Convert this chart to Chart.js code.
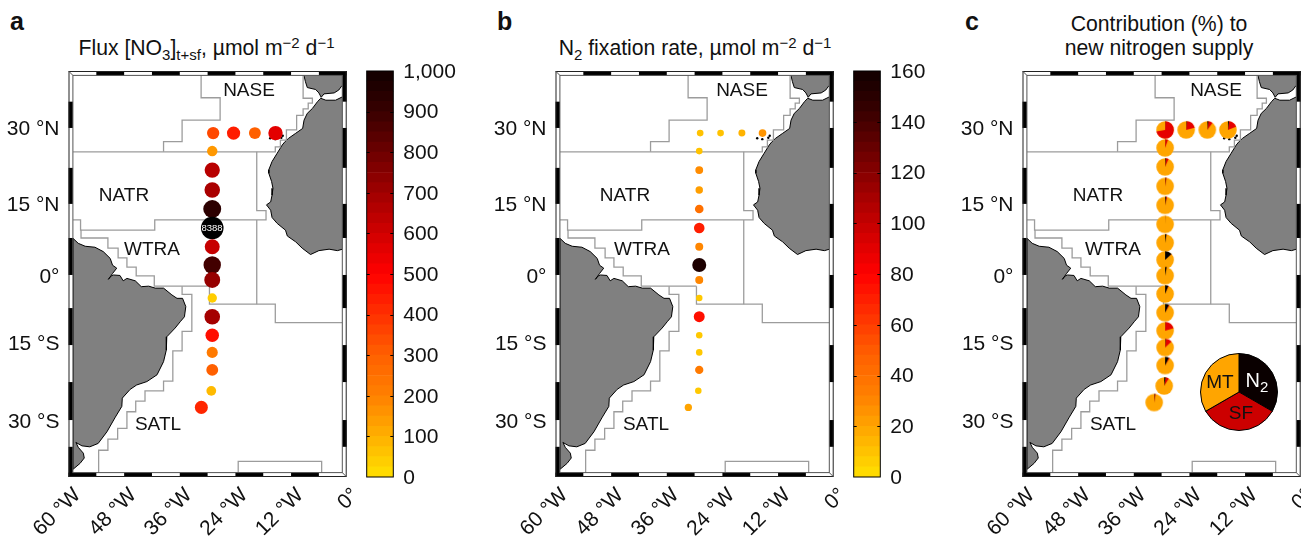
<!DOCTYPE html>
<html><head><meta charset="utf-8">
<script src="https://cdn.jsdelivr.net/npm/chart.js@4"></script>
<style>
html,body{margin:0;padding:0;background:#fff;overflow:hidden;width:1301px;height:537px}
body{position:relative;font-family:"Liberation Sans",Arial,sans-serif;color:#111}
canvas{position:absolute}
.t{position:absolute;transform:translate(-50%,-50%);white-space:nowrap;text-align:center;line-height:24px}
.title{font-size:21.2px}
.reg{font-size:19px}
.let{position:absolute;font-weight:bold;font-size:25px;line-height:25px}
sub,sup{font-size:15px;line-height:0}
sub{vertical-align:-5px}sup{vertical-align:7px}
</style></head><body>
<div class="let" style="left:10px;top:9px">a</div>
<div class="let" style="left:497px;top:9px">b</div>
<div class="let" style="left:965px;top:9px">c</div>
<div class="t title" style="left:206.5px;top:48px">Flux [NO<sub>3</sub>]<sub>t+sf</sub>, µmol m<sup>−2</sup> d<sup>−1</sup></div>
<div class="t title" style="left:695px;top:48px">N<sub>2</sub> fixation rate, µmol m<sup>−2</sup> d<sup>−1</sup></div>
<div class="t title" style="left:1159px;top:36px">Contribution (%) to<br>new nitrogen supply</div>
<canvas id="mapA" width="362" height="537" style="left:0;top:0"></canvas>
<canvas id="barA" width="110" height="537" style="left:360px;top:0"></canvas>
<canvas id="mapB" width="362" height="537" style="left:487px;top:0"></canvas>
<canvas id="barB" width="110" height="537" style="left:847px;top:0"></canvas>
<canvas id="mapC" width="362" height="537" style="left:954px;top:0"></canvas>
<canvas id="pieKey" width="80" height="80" style="left:1199px;top:352px"></canvas>
<div class="t" style="left:212px;top:228px;font-size:9.5px;color:#fff">8388</div>
<div class="t reg" style="left:249px;top:90px">NASE</div><div class="t reg" style="left:124px;top:195px">NATR</div><div class="t reg" style="left:152px;top:249px">WTRA</div><div class="t reg" style="left:158px;top:424px">SATL</div>
<div class="t reg" style="left:742px;top:90px">NASE</div><div class="t reg" style="left:625px;top:195px">NATR</div><div class="t reg" style="left:642px;top:249px">WTRA</div><div class="t reg" style="left:646px;top:424px">SATL</div>
<div class="t reg" style="left:1216px;top:90px">NASE</div><div class="t reg" style="left:1098px;top:195px">NATR</div><div class="t reg" style="left:1113px;top:249px">WTRA</div><div class="t reg" style="left:1113px;top:424px">SATL</div>
<div class="t reg" style="left:1220px;top:382px">MT</div>
<div class="t reg" style="left:1241px;top:413px">SF</div>
<div class="t reg" style="left:1257px;top:380px;color:#fff;font-size:20px">N<sub>2</sub></div>
<script>
// ---- axis tick values and labels
const lonTicks = [-60,-48,-36,-24,-12,0];
const lonLabels = ['60 °W','48 °W','36 °W','24 °W','12 °W','0°'];
const latTicks = [30,14.5,-0.3,-14.2,-30.2];
const latLabels = ['30 °N','15 °N','0°','15 °S','30 °S'];
const lonBreaks = [-60,-54,-48,-42,-36,-30,-24,-18,-12,-6,0];
const latBreaks = [41.7,35.4,30,21.8,14.4,7.4,-0.2,-7,-14.6,-22.2,-30,-35.5,-41.7];

// ---- stations (degrees)
const stationLon = [-28.8,-24.4,-19.8,-15.35,-29,-29,-29,-29,-29,-29,-29,-29,-29,-29,-29,-29,-29,-29.2,-31.35];
const stationLat = [28.95,28.95,28.95,28.95,25.25,21.35,17.25,13.35,9.45,5.6,1.85,-1.23,-4.93,-8.77,-12.6,-16.1,-19.7,-24,-27.4];
const no3Flux = [350,440,300,560,150,650,680,930,8388,620,880,720,40,690,470,220,300,80,420];
const n2Fix = [10,10,15,25,10,28,22,40,70,30,155,30,8,75,8,8,35,8,20];

// ---- pies: centres as plotted in panel c, and percent shares
const pieLon = [-29.25,-24.7,-20.15,-15.7,-29.25,-29.25,-29.25,-29.25,-29.25,-29.25,-29.25,-29.25,-29.25,-29.25,-29.25,-29.25,-29.25,-29.45,-31.6];
const pieLat = [29.6,29.6,29.6,29.6,25.9,22,18,14.1,10.2,6.4,2.9,-0.35,-4.1,-7.95,-11.65,-15.1,-18.8,-23,-26.4];
const pieN2 = [0.5,1,2,2,0.5,1.5,1,2,0.3,2.5,13,3,6,7,0.5,1,7,3,1];
const pieSF = [72,20,8,17,5,5,2,2,0.2,0.5,0.5,0.3,1,1.5,20,12,2,6,2];
const keyShares = [1,1,1];

// ---- colour bar
const fluxMax = 1000, fluxStep = 100;
const n2Max = 160, n2Step = 20;
const bandCount = 40;
const cmapPos = [0,0.1,0.2,0.3,0.4,0.5,0.6,0.7,0.8,0.9,1];
const cmapR = [255,255,255,255,255,255,208,160,108,56,16];
const cmapG = [224,176,128,96,48,0,0,0,0,0,0];

// ---- coastlines (lon,lat pairs)
const africa = [-0.9,36.4,-2.4,35.7,-4.5,35.7,-5.6,36.1,-6.3,35.4,-7.4,34,-8.5,33,-9.2,31.6,-9.5,29.9,-11,28.9,-12.5,27.9,-13.3,27.2,-13.9,26.5,-15,24.8,-16.1,23.1,-16.8,21.4,-16.8,20.7,-16.2,19,-15.9,17.6,-16.1,16.2,-16.4,14.8,-17.3,14.2,-16.4,13.1,-16.1,11.6,-15,10.4,-13.2,9,-12.8,7.8,-11,6.6,-9.6,5.3,-7.8,4,-6,4.8,-3.8,5.1,-2,4.8,-0.9,5.1,-0.9,36.4];
const iberia = [-9.2,41.7,-9.2,40.7,-8.9,39.5,-8.5,38.3,-6.7,37.9,-6,37.2,-5.5,36.3,-4.9,37,-2.7,37.2,-1.7,37.8,-1.1,38.6,-0.9,38.7,-0.9,41.7,-9.2,41.7];
const southAmerica = [-59,7.3,-57.9,6.3,-56.4,5.7,-54.3,5.5,-52.5,4.6,-51,3.2,-50.5,1.8,-49.6,1.2,-50.5,0.1,-51.4,-1.1,-50.8,-0.4,-50.3,-0.2,-48.9,-0.3,-48.2,-1.4,-47.4,-0.9,-45.6,-1.4,-44.3,-2.6,-42.7,-2.5,-41.3,-2.9,-39.5,-2.9,-37.7,-4.3,-36.6,-5,-35.4,-5,-34.7,-6.7,-35,-8.8,-35.9,-9.8,-37,-11.1,-38.8,-12.9,-38.9,-15.6,-39.5,-18,-40.9,-20.7,-43.1,-22.1,-45.3,-22.8,-46.7,-23.7,-48.4,-25.5,-48.5,-27.2,-49.9,-29.4,-51.7,-32.4,-53.6,-34.8,-55.4,-35.5,-57.1,-35.3,-58.4,-34.6,-57.9,-35.6,-56.8,-36.8,-56.6,-37.8,-57.5,-38.9,-59,-40.1,-59,7.3];
const canaryLon = [-16.5,-15.4,-13.8,-14.1];
const canaryLat = [27.9,27.7,28.4,28];

// ---- province boundaries (lon,lat pairs)
const naseWest = [-31.4,41.7,-31.4,36.2,-27.3,36.2,-27.3,31.6,-35.5,31.6,-35.5,27.2,-39.5,27.2,-39.5,25.1];
const naseEast = [-59,25.1,-15.4,25.1,-15.4,26.1,-14.3,26.1,-14.3,27.5,-13,27.5,-13,29.6,-10.8,29.6,-10.8,32.6,-9.4,32.6,-9.4,33.9,-8.3,33.9,-8.3,35.1,-7.4,35.1,-7.4,36.1,-9.4,36.1,-9.4,41.7];
const natrSouth = [-19.4,25.1,-19.4,13,-17.4,13,-17.4,11.1,-41.4,11.1,-41.4,9,-57.4,9,-57.4,11.1,-59,11.1];
const wtraEast = [-19.4,11.1,-19.4,-6.2];
const wtraSouth = [-29.6,-2.5,-29.6,-6.2,-15.4,-6.2,-15.4,-10,-0.9,-10];
const wtraWest = [-57.3,9.1,-57.3,7.4,-51.5,7.4,-51.5,5.3,-49.3,5.3,-49.3,3.3,-47.4,3.3,-47.4,1.4,-45.4,1.4,-45.4,-0.4,-41.5,-0.4,-41.5,-2.5,-29.6,-2.5];
const satlCoast = [-35.5,-2.5,-35.5,-4.2,-33.4,-4.2,-33.4,-11.8,-35.5,-11.8,-35.5,-15.8,-37.5,-15.8,-37.5,-22,-39.5,-22,-39.5,-24,-43.5,-24,-43.5,-26.1,-45.5,-26.1,-45.5,-28.3,-47.4,-28.3,-47.4,-31.7,-49.4,-31.7,-49.4,-33.9,-51.5,-33.9,-51.5,-36.2,-53.5,-36.2,-53.5,-41.7];
const southBox = [-23.4,-41.7,-23.4,-38.5,-5.4,-38.5,-5.4,-41.7];

// ---- helpers
const FONT = '"Liberation Sans", Arial, sans-serif';
const INK = '#111';
function pairs(a){const o=[];for(let i=0;i<a.length;i+=2)o.push({x:a[i],y:a[i+1]});return o;}
function zip(xs,ys){return xs.map((x,i)=>({x,y:ys[i]}));}
function cmap(f){
  f=Math.max(0,Math.min(1,f));
  let i=0;while(i<cmapPos.length-2&&f>cmapPos[i+1])i++;
  const t=(f-cmapPos[i])/(cmapPos[i+1]-cmapPos[i]);
  const r=Math.round(cmapR[i]+(cmapR[i+1]-cmapR[i])*t),g=Math.round(cmapG[i]+(cmapG[i+1]-cmapG[i])*t);
  return `rgb(${r},${g},0)`;
}
function land(a){return {data:pairs(a),showLine:true,fill:'shape',backgroundColor:'#808080',borderColor:'#000',borderWidth:1,pointRadius:0,tension:0,order:5};}
function prov(a){return {data:pairs(a),showLine:true,fill:false,borderColor:'#9c9c9c',borderWidth:1.3,pointRadius:0,tension:0,order:4};}
function mapBase(){
  return [land(africa),land(iberia),land(southAmerica),
    prov(naseWest),prov(naseEast),prov(natrSouth),prov(wtraEast),prov(wtraSouth),prov(wtraWest),prov(satlCoast),prov(southBox),
    {data:zip(canaryLon,canaryLat),showLine:false,pointRadius:1.2,pointBackgroundColor:'#000',pointBorderWidth:0,order:3}];
}
const framePlugin={id:'frame',afterDatasetsDraw(chart){
  const {ctx,chartArea:a,scales:{x,y}}=chart,w=4.4;
  ctx.save();
  ctx.fillStyle='#fff';
  ctx.fillRect(a.left,a.top,a.right-a.left,w);ctx.fillRect(a.left,a.bottom-w,a.right-a.left,w);
  ctx.fillRect(a.left,a.top,w,a.bottom-a.top);ctx.fillRect(a.right-w,a.top,w,a.bottom-a.top);
  ctx.fillStyle='#000';
  for(let i=0;i<lonBreaks.length-1;i++){
    const p=x.getPixelForValue(lonBreaks[i]),q=x.getPixelForValue(lonBreaks[i+1]);
    ctx.fillRect(p,i%2?a.top:a.bottom-w,q-p,w);
  }
  for(let i=0;i<latBreaks.length-1;i++){
    const p=y.getPixelForValue(latBreaks[i]),q=y.getPixelForValue(latBreaks[i+1]);
    ctx.fillRect(i%2?a.left:a.right-w,p,w,q-p);
  }
  ctx.strokeStyle='#222';ctx.lineWidth=1;
  ctx.strokeRect(a.left+.5,a.top+.5,a.right-a.left-1,a.bottom-a.top-1);
  ctx.strokeStyle='#555';
  ctx.strokeRect(a.left+w,a.top+w,a.right-a.left-2*w,a.bottom-a.top-2*w);
  ctx.beginPath();
  ctx.moveTo(a.left,a.top);ctx.lineTo(a.left+w,a.top+w);
  ctx.moveTo(a.right,a.bottom);ctx.lineTo(a.right-w,a.bottom-w);
  ctx.stroke();
  ctx.restore();
}};
function mapChart(id,top){
  return new Chart(document.getElementById(id),{
    type:'scatter',
    data:{datasets:[...top,...mapBase()]},
    plugins:[framePlugin],
    options:{responsive:false,animation:false,devicePixelRatio:1,
      layout:{padding:{top:71,right:15.3,bottom:0,left:0}},
      plugins:{legend:{display:false},tooltip:{enabled:false},title:{display:false}},
      scales:{
        x:{type:'linear',min:-60,max:0,grid:{display:false,drawTicks:false},border:{display:false},
          afterBuildTicks(s){s.ticks=lonTicks.map(v=>({value:v}));},
          afterFit(s){s.height=60;s.paddingLeft=0;s.paddingRight=0;},
          ticks:{autoSkip:false,minRotation:45,maxRotation:45,padding:6,labelOffset:9,color:INK,font:{family:FONT,size:21},
            callback:(v)=>lonLabels[lonTicks.indexOf(v)]}},
        y:{type:'linear',min:-41.7,max:41.7,grid:{display:false,drawTicks:false},border:{display:false},
          afterBuildTicks(s){s.ticks=latTicks.map(v=>({value:v}));},
          afterFit(s){s.width=68.5;s.paddingTop=0;s.paddingBottom=0;},
          ticks:{autoSkip:false,padding:9,labelOffset:1.5,color:INK,font:{family:FONT,size:21},
            callback:(v)=>latLabels[latTicks.indexOf(v)]}}
      }}
  });
}
function barChart(id,max,step,fmt){
  const band=max/bandCount;
  const ds=[];
  for(let i=0;i<bandCount;i++)ds.push({data:[band],backgroundColor:cmap((i+0.5)/bandCount),borderWidth:0,stack:'s',barPercentage:1,categoryPercentage:1});
  return new Chart(document.getElementById(id),{
    type:'bar',
    data:{labels:['scale'],datasets:ds},
    plugins:[{id:'barFrame',afterDraw(chart){
      const {ctx,chartArea:a,scales:{y}}=chart;
      ctx.save();ctx.strokeStyle='#000';ctx.lineWidth=1;
      ctx.strokeRect(a.left,a.top,a.right-a.left,a.bottom-a.top);
      ctx.beginPath();
      for(let v=step;v<max;v+=step){const p=Math.round(y.getPixelForValue(v))+.5;
        ctx.moveTo(a.left,p);ctx.lineTo(a.left+3,p);ctx.moveTo(a.right,p);ctx.lineTo(a.right-3,p);}
      ctx.stroke();ctx.restore();
    }}],
    options:{responsive:false,animation:false,devicePixelRatio:1,
      layout:{padding:{top:71,bottom:60,left:6.7,right:0}},
      plugins:{legend:{display:false},tooltip:{enabled:false}},
      scales:{
        x:{display:false,stacked:true},
        y:{position:'right',stacked:true,min:0,max:max,grid:{display:false,drawTicks:false},border:{display:false},
          afterFit(s){s.width=76.7;s.paddingTop=0;s.paddingBottom=0;},
          ticks:{stepSize:step,padding:10,labelOffset:1,color:INK,font:{family:FONT,size:21},callback:fmt}}
      }}
  });
}
function pieCanvas(n2,sf){
  const c=document.createElement('canvas');c.width=20;c.height=20;
  const g=c.getContext('2d'),r=8.8,o=10,s=-Math.PI/2,k=Math.PI*2/100;
  g.fillStyle='#ffa500';g.beginPath();g.arc(o,o,r,0,Math.PI*2);g.fill();
  g.fillStyle='#e60000';g.beginPath();g.moveTo(o,o);g.arc(o,o,r,s+n2*k,s+(n2+sf)*k);g.closePath();g.fill();
  g.fillStyle='#000';g.beginPath();g.moveTo(o,o);g.arc(o,o,r,s,s+n2*k);g.closePath();g.fill();
  return c;
}

// ---- panels
const rA=v=>Math.min(11.3,4.5+v*0.0048);
const rB=v=>Math.min(7,3+v*0.033);
function stationSet(vals,max,rad){
  return {data:zip(stationLon,stationLat),showLine:false,order:0,
    pointRadius:vals.map(rad),pointBackgroundColor:vals.map(v=>v>max?'#000':cmap(v/max)),pointBorderWidth:0};
}
mapChart('mapA',[stationSet(no3Flux,fluxMax,rA)]);
barChart('barA',fluxMax,fluxStep,v=>Number(v).toLocaleString('en-US'));
mapChart('mapB',[stationSet(n2Fix,n2Max,rB)]);
barChart('barB',n2Max,n2Step,v=>String(v));
const pies=pieN2.map((n,i)=>pieCanvas(n,pieSF[i]));
mapChart('mapC',[{data:zip(pieLon,pieLat),showLine:false,order:0,pointRadius:9,pointBorderWidth:0,
  pointStyle:c=>pies[c.dataIndex]}]);
new Chart(document.getElementById('pieKey'),{
  type:'doughnut',
  data:{labels:['N2','SF','MT'],datasets:[{data:keyShares,backgroundColor:['#0a0000','#cc0000','#ffa500'],borderColor:'#000',borderWidth:1}]},
  options:{responsive:false,animation:false,devicePixelRatio:1,cutout:0,layout:{padding:1},plugins:{legend:{display:false},tooltip:{enabled:false}}}
});
</script>
</body></html>
